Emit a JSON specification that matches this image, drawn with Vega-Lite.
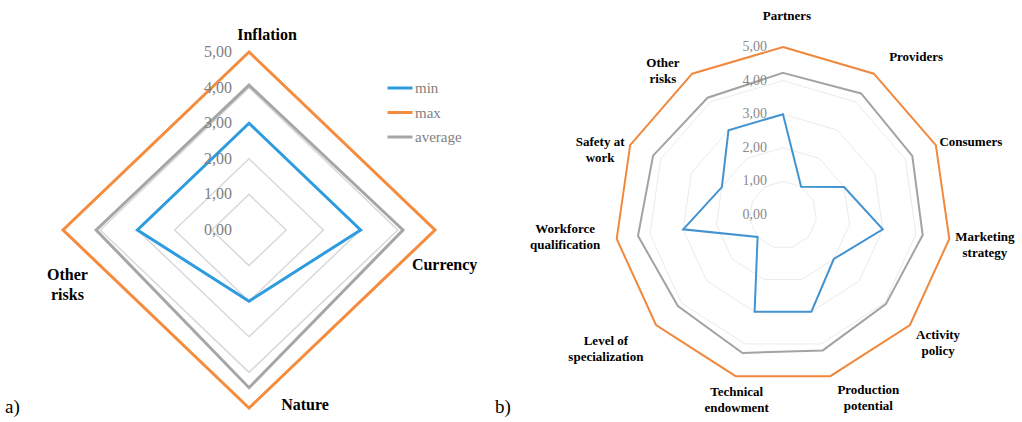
{
  "$schema": "https://vega.github.io/schema/vega-lite/v6.json",
  "background": "white",
  "padding": 0,
  "spacing": 0,
  "bounds": "flush",
  "config": {"view": {"stroke": null}, "font": "'Liberation Serif', 'Times New Roman', 'DejaVu Serif', serif"},
  "resolve": {"scale": {"color": "independent"}, "legend": {"color": "independent"}},
  "datasets": {
    "a": [
      {"series": "min", "axis": "Inflation", "k": 0, "value": 3},
      {"series": "min", "axis": "Currency", "k": 1, "value": 3},
      {"series": "min", "axis": "Nature", "k": 2, "value": 2},
      {"series": "min", "axis": "Other risks", "k": 3, "value": 3},
      {"series": "max", "axis": "Inflation", "k": 0, "value": 5},
      {"series": "max", "axis": "Currency", "k": 1, "value": 5},
      {"series": "max", "axis": "Nature", "k": 2, "value": 5},
      {"series": "max", "axis": "Other risks", "k": 3, "value": 5},
      {"series": "average", "axis": "Inflation", "k": 0, "value": 4.07},
      {"series": "average", "axis": "Currency", "k": 1, "value": 4.14},
      {"series": "average", "axis": "Nature", "k": 2, "value": 4.43},
      {"series": "average", "axis": "Other risks", "k": 3, "value": 4.11}
    ],
    "b": [
      {"series": "min", "axis": "Partners", "k": 0, "value": 3},
      {"series": "min", "axis": "Providers", "k": 1, "value": 1},
      {"series": "min", "axis": "Consumers", "k": 2, "value": 2},
      {"series": "min", "axis": "Marketing strategy", "k": 3, "value": 3},
      {"series": "min", "axis": "Activity policy", "k": 4, "value": 2},
      {"series": "min", "axis": "Production potential", "k": 5, "value": 3},
      {"series": "min", "axis": "Technical endowment", "k": 6, "value": 3},
      {"series": "min", "axis": "Level of specialization", "k": 7, "value": 1},
      {"series": "min", "axis": "Workforce qualification", "k": 8, "value": 3},
      {"series": "min", "axis": "Safety at work", "k": 9, "value": 2},
      {"series": "min", "axis": "Other risks", "k": 10, "value": 3},
      {"series": "max", "axis": "Partners", "k": 0, "value": 5},
      {"series": "max", "axis": "Providers", "k": 1, "value": 5},
      {"series": "max", "axis": "Consumers", "k": 2, "value": 5},
      {"series": "max", "axis": "Marketing strategy", "k": 3, "value": 5},
      {"series": "max", "axis": "Activity policy", "k": 4, "value": 5},
      {"series": "max", "axis": "Production potential", "k": 5, "value": 5},
      {"series": "max", "axis": "Technical endowment", "k": 6, "value": 5},
      {"series": "max", "axis": "Level of specialization", "k": 7, "value": 5},
      {"series": "max", "axis": "Workforce qualification", "k": 8, "value": 5},
      {"series": "max", "axis": "Safety at work", "k": 9, "value": 5},
      {"series": "max", "axis": "Other risks", "k": 10, "value": 5},
      {"series": "average", "axis": "Partners", "k": 0, "value": 4.23},
      {"series": "average", "axis": "Providers", "k": 1, "value": 4.3},
      {"series": "average", "axis": "Consumers", "k": 2, "value": 4.23},
      {"series": "average", "axis": "Marketing strategy", "k": 3, "value": 4.2},
      {"series": "average", "axis": "Activity policy", "k": 4, "value": 4.05},
      {"series": "average", "axis": "Production potential", "k": 5, "value": 4.2},
      {"series": "average", "axis": "Technical endowment", "k": 6, "value": 4.28},
      {"series": "average", "axis": "Level of specialization", "k": 7, "value": 4.14},
      {"series": "average", "axis": "Workforce qualification", "k": 8, "value": 4.36},
      {"series": "average", "axis": "Safety at work", "k": 9, "value": 4.25},
      {"series": "average", "axis": "Other risks", "k": 10, "value": 4.15}
    ],
    "axesA": [
      {"k": 0, "label": "Inflation"},
      {"k": 1, "label": "Currency"},
      {"k": 2, "label": "Nature"},
      {"k": 3, "label": "Other\nrisks"}
    ],
    "axesB": [
      {"k": 0, "label": "Partners"},
      {"k": 1, "label": "Providers"},
      {"k": 2, "label": "Consumers"},
      {"k": 3, "label": "Marketing\nstrategy"},
      {"k": 4, "label": "Activity\npolicy"},
      {"k": 5, "label": "Production\npotential"},
      {"k": 6, "label": "Technical\nendowment"},
      {"k": 7, "label": "Level of\nspecialization"},
      {"k": 8, "label": "Workforce\nqualification"},
      {"k": 9, "label": "Safety at\nwork"},
      {"k": 10, "label": "Other\nrisks"}
    ],
    "levels": [
      {"level": 0, "label": "0,00"},
      {"level": 1, "label": "1,00"},
      {"level": 2, "label": "2,00"},
      {"level": 3, "label": "3,00"},
      {"level": 4, "label": "4,00"},
      {"level": 5, "label": "5,00"}
    ],
    "gridA": [
      {"level": 1, "k": [0, 1, 2, 3]},
      {"level": 2, "k": [0, 1, 2, 3]},
      {"level": 3, "k": [0, 1, 2, 3]},
      {"level": 4, "k": [0, 1, 2, 3]},
      {"level": 5, "k": [0, 1, 2, 3]}
    ],
    "gridB": [
      {"level": 1, "k": [0, 1, 2, 3, 4, 5, 6, 7, 8, 9, 10]},
      {"level": 2, "k": [0, 1, 2, 3, 4, 5, 6, 7, 8, 9, 10]},
      {"level": 3, "k": [0, 1, 2, 3, 4, 5, 6, 7, 8, 9, 10]},
      {"level": 4, "k": [0, 1, 2, 3, 4, 5, 6, 7, 8, 9, 10]},
      {"level": 5, "k": [0, 1, 2, 3, 4, 5, 6, 7, 8, 9, 10]}
    ]
  },
  "hconcat": [
    {
      "width": 490,
      "height": 422,
      "title": {"text": "a)", "orient": "bottom", "anchor": "start", "offset": -24, "dx": 5, "font": "'Liberation Serif', 'Times New Roman', serif", "fontSize": 19, "fontWeight": "normal", "color": "#000000"},
      "layer": [
        {
          "data": {"name": "gridA"},
          "transform": [
            {"flatten": ["k"]},
            {"calculate": "datum.level * sin(2 * PI * datum.k / 4)", "as": "px"},
            {"calculate": "datum.level * cos(2 * PI * datum.k / 4)", "as": "py"}
          ],
          "mark": {"type": "line", "interpolate": "linear-closed", "stroke": "#d9d9d9", "strokeWidth": 1.5},
          "encoding": {
            "x": {"field": "px", "type": "quantitative", "scale": {"domain": [-6.694, 6.478], "nice": false, "zero": false}, "axis": null},
            "y": {"field": "py", "type": "quantitative", "scale": {"domain": [-5.393, 6.461], "nice": false, "zero": false}, "axis": null},
            "detail": {"field": "level", "type": "nominal"},
            "order": {"field": "k", "type": "quantitative"}
          }
        },
        {
          "data": {"name": "a"},
          "transform": [
            {"calculate": "datum.value * sin(2 * PI * datum.k / 4)", "as": "px"},
            {"calculate": "datum.value * cos(2 * PI * datum.k / 4)", "as": "py"}
          ],
          "mark": {"type": "line", "interpolate": "linear-closed", "strokeWidth": 3},
          "encoding": {
            "x": {"field": "px", "type": "quantitative"},
            "y": {"field": "py", "type": "quantitative"},
            "color": {
              "field": "series", "type": "nominal",
              "scale": {"domain": ["min", "max", "average"], "range": ["#2e9bde", "#f58b3c", "#a6a6a6"]},
              "legend": {"orient": "none", "legendX": 386, "legendY": 74, "title": null, "symbolType": "stroke", "symbolSize": 625, "symbolStrokeWidth": 3, "labelFont": "'Liberation Serif', 'Times New Roman', serif", "labelFontSize": 15, "labelColor": "#7f7f7f", "labelOffset": 1, "rowPadding": 2.5, "padding": 0}
            },
            "order": {"field": "k", "type": "quantitative"}
          }
        },
        {
          "data": {"name": "levels"},
          "mark": {"type": "text", "align": "right", "baseline": "middle", "dx": -17, "font": "'Liberation Serif', 'Times New Roman', serif", "fontSize": 16, "color": "#808080"},
          "encoding": {
            "x": {"datum": 0, "type": "quantitative"},
            "y": {"field": "level", "type": "quantitative"},
            "text": {"field": "label"}
          }
        },
        {
          "data": {"name": "axesA"},
          "transform": [
            {"calculate": "5.5 * sin(2 * PI * datum.k / 4)", "as": "px"},
            {"calculate": "5.5 * cos(2 * PI * datum.k / 4)", "as": "py"}
          ],
          "mark": {"type": "text", "align": "center", "baseline": "middle", "lineBreak": "\n", "lineHeight": 20, "font": "'Liberation Serif', 'Times New Roman', serif", "fontWeight": "bold", "fontSize": 16, "color": "#000000",
            "dx": {"expr": "[18, -9, 56, 23][datum.k]"},
            "dy": {"expr": "[1, 35, -21, 45][datum.k]"}},
          "encoding": {
            "x": {"field": "px", "type": "quantitative"},
            "y": {"field": "py", "type": "quantitative"},
            "text": {"field": "label"}
          }
        }
      ]
    },
    {
      "width": 532,
      "height": 422,
      "title": {"text": "b)", "orient": "bottom", "anchor": "start", "offset": -24, "dx": 5, "font": "'Liberation Serif', 'Times New Roman', serif", "fontSize": 19, "fontWeight": "normal", "color": "#000000"},
      "layer": [
        {
          "data": {"name": "gridB"},
          "transform": [
            {"flatten": ["k"]},
            {"calculate": "datum.level * sin(2 * PI * datum.k / 11)", "as": "px"},
            {"calculate": "datum.level * cos(2 * PI * datum.k / 11)", "as": "py"}
          ],
          "mark": {"type": "line", "interpolate": "linear-closed", "stroke": "#ebebeb", "strokeWidth": 1},
          "encoding": {
            "x": {"field": "px", "type": "quantitative", "scale": {"domain": [-8.72, 7.113], "nice": false, "zero": false}, "axis": null},
            "y": {"field": "py", "type": "quantitative", "scale": {"domain": [-6.161, 6.399], "nice": false, "zero": false}, "axis": null},
            "detail": {"field": "level", "type": "nominal"},
            "order": {"field": "k", "type": "quantitative"}
          }
        },
        {
          "data": {"name": "b"},
          "transform": [
            {"calculate": "datum.value * sin(2 * PI * datum.k / 11)", "as": "px"},
            {"calculate": "datum.value * cos(2 * PI * datum.k / 11)", "as": "py"}
          ],
          "mark": {"type": "line", "interpolate": "linear-closed", "strokeWidth": 2},
          "encoding": {
            "x": {"field": "px", "type": "quantitative"},
            "y": {"field": "py", "type": "quantitative"},
            "color": {
              "field": "series", "type": "nominal",
              "scale": {"domain": ["min", "max", "average"], "range": ["#4393d0", "#f0883e", "#a3a3a3"]},
              "legend": null
            },
            "order": {"field": "k", "type": "quantitative"}
          }
        },
        {
          "data": {"name": "levels"},
          "mark": {"type": "text", "align": "right", "baseline": "middle", "dx": -16, "font": "'Liberation Serif', 'Times New Roman', serif", "fontSize": 14, "color": "#8a8a8a"},
          "encoding": {
            "x": {"datum": 0, "type": "quantitative"},
            "y": {"field": "level", "type": "quantitative"},
            "text": {"field": "label"}
          }
        },
        {
          "data": {"name": "axesB"},
          "transform": [
            {"calculate": "5.95 * sin(2 * PI * datum.k / 11)", "as": "px"},
            {"calculate": "5.95 * cos(2 * PI * datum.k / 11)", "as": "py"}
          ],
          "mark": {"type": "text", "align": "center", "baseline": "middle", "lineBreak": "\n", "lineHeight": 16, "font": "'Liberation Serif', 'Times New Roman', serif", "fontWeight": "bold", "fontSize": 13, "color": "#000000",
            "dx": {"expr": "[4, 25, 6, 4, 4, 29, 10, -26, -20, -1, -12][datum.k]"},
            "dy": {"expr": "[1, 10, 10, -6, -11, -17, -15, -5, -14, 10, 16][datum.k]"}},
          "encoding": {
            "x": {"field": "px", "type": "quantitative"},
            "y": {"field": "py", "type": "quantitative"},
            "text": {"field": "label"}
          }
        }
      ]
    }
  ]
}
